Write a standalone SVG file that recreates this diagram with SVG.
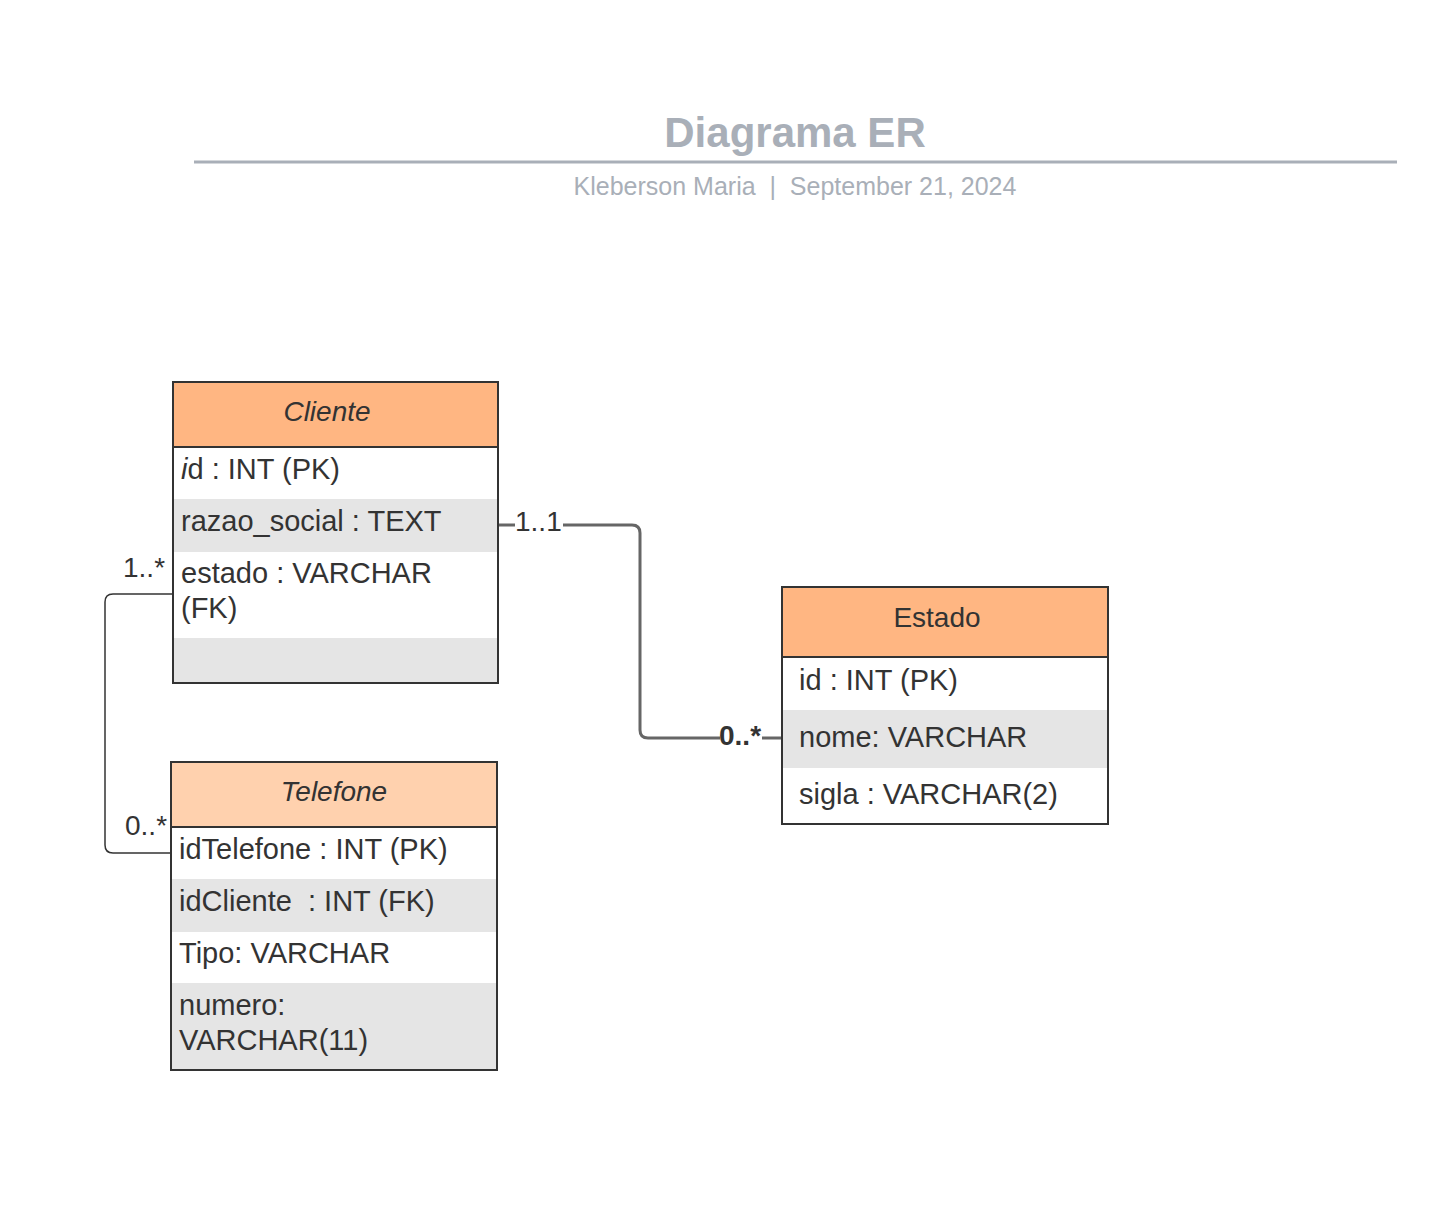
<svg xmlns="http://www.w3.org/2000/svg" width="1446" height="1224" viewBox="0 0 1446 1224">
<style>
text{font-family:"Liberation Sans",Arial,sans-serif;fill:#333333}
.hdr{font-size:28px;text-anchor:middle}
.it{font-style:italic}
.row{font-size:29px}
.box{fill:none;stroke:#333333;stroke-width:2}
.sep{stroke:#333333;stroke-width:2}
.h1{fill:#ffb682}
.h2{fill:#ffd1ae}
.g{fill:#e5e5e5}
.w{fill:#ffffff}
.lbl{font-size:28px}
</style>
<rect width="1446" height="1224" fill="#ffffff"/>
<g id="title">
<text x="795" y="147" text-anchor="middle" style="font-size:42px;font-weight:bold;fill:#a9afb8">Diagrama ER</text>
<line x1="194" y1="162" x2="1397" y2="162" stroke="#a9afb8" stroke-width="3"/>
<text x="795" y="195" text-anchor="middle" xml:space="preserve" style="font-size:25px;fill:#a9afb8">Kleberson Maria  |  September 21, 2024</text>
</g>
<g id="connectors" fill="none">
<path d="M498,525 H515 M563,525 H632 Q640,525 640,533 V730 Q640,738 648,738 H720 M762,738 H782" stroke="#666666" stroke-width="3"/>
<path d="M173,594 H113 Q105,594 105,602 V845 Q105,853 113,853 H171" stroke="#333333" stroke-width="1.5"/>
<text class="lbl" x="515" y="531">1..1</text>
<text class="lbl" x="719" y="745" style="font-weight:bold">0..*</text>
<text class="lbl" x="123" y="577">1..*</text>
<text class="lbl" x="125" y="835">0..*</text>
</g>
<g id="cliente">
<rect class="h1" x="173" y="382" width="325" height="65"/>
<rect class="w" x="173" y="447" width="325" height="52"/>
<rect class="g" x="173" y="499" width="325" height="53"/>
<rect class="w" x="173" y="552" width="325" height="86"/>
<rect class="g" x="173" y="638" width="325" height="45"/>
<line class="sep" x1="173" y1="447" x2="498" y2="447"/>
<rect class="box" x="173" y="382" width="325" height="301"/>
<text class="hdr it" x="327" y="421">Cliente</text>
<text class="row" x="181" y="479"><tspan font-style="italic">i</tspan>d : INT (PK)</text>
<text class="row" x="181" y="531">razao_social : TEXT</text>
<text class="row" x="181" y="583">estado : VARCHAR</text>
<text class="row" x="181" y="618">(FK)</text>
</g>
<g id="telefone">
<rect class="h2" x="171" y="762" width="326" height="65"/>
<rect class="w" x="171" y="827" width="326" height="52"/>
<rect class="g" x="171" y="879" width="326" height="53"/>
<rect class="w" x="171" y="932" width="326" height="51"/>
<rect class="g" x="171" y="983" width="326" height="87"/>
<line class="sep" x1="171" y1="827" x2="497" y2="827"/>
<rect class="box" x="171" y="762" width="326" height="308"/>
<text class="hdr it" x="334" y="801">Telefone</text>
<text class="row" x="179" y="859">idTelefone : INT (PK)</text>
<text class="row" x="179" y="911" xml:space="preserve">idCliente  : INT (FK)</text>
<text class="row" x="179" y="963">Tipo: VARCHAR</text>
<text class="row" x="179" y="1015">numero:</text>
<text class="row" x="179" y="1050">VARCHAR(11)</text>
</g>
<g id="estado">
<rect class="h1" x="782" y="587" width="326" height="70"/>
<rect class="w" x="782" y="657" width="326" height="53"/>
<rect class="g" x="782" y="710" width="326" height="58"/>
<rect class="w" x="782" y="768" width="326" height="56"/>
<line class="sep" x1="782" y1="657" x2="1108" y2="657"/>
<rect class="box" x="782" y="587" width="326" height="237"/>
<text class="hdr" x="937" y="627">Estado</text>
<text class="row" x="799" y="690">id : INT (PK)</text>
<text class="row" x="799" y="747">nome: VARCHAR</text>
<text class="row" x="799" y="804">sigla : VARCHAR(2)</text>
</g>
</svg>
